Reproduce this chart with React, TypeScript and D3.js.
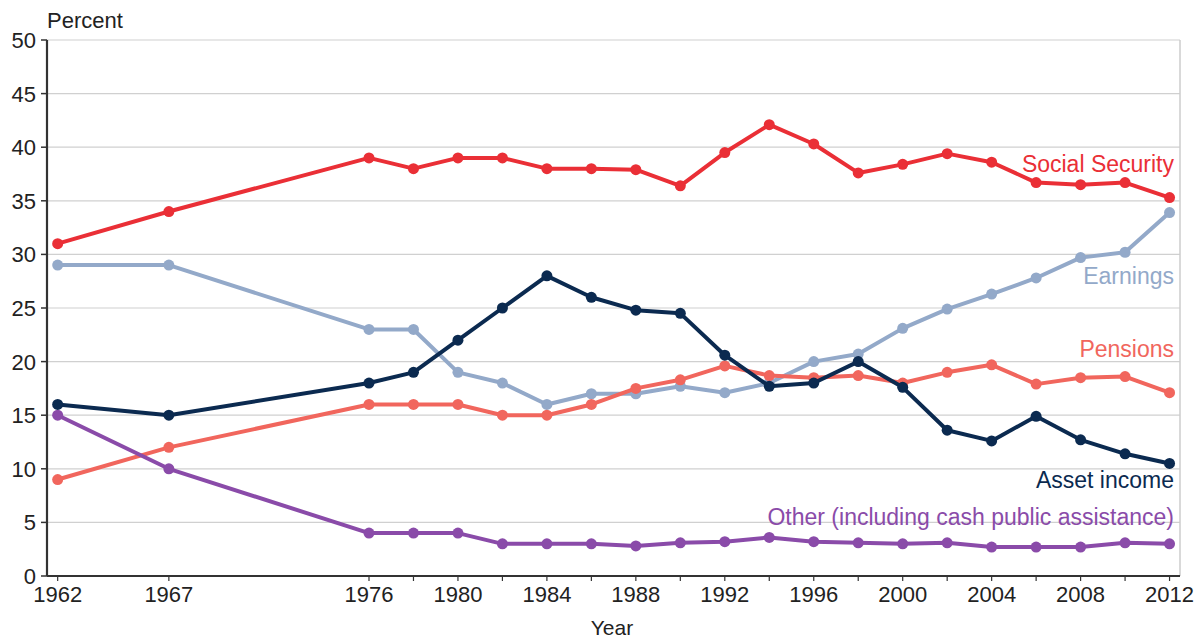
import React from "react";
import * as d3 from "d3";

const years = [1962, 1967, 1976, 1978, 1980, 1982, 1984, 1986, 1988, 1990, 1992, 1994, 1996, 1998, 2000, 2002, 2004, 2006, 2008, 2010, 2012];
const socialSecurity = [31, 34, 39, 38, 39, 39, 38, 38, 37.9, 36.4, 39.5, 42.1, 40.3, 37.6, 38.4, 39.4, 38.6, 36.7, 36.5, 36.7, 35.3];
const earnings = [29, 29, 23, 23, 19, 18, 16, 17, 17, 17.7, 17.1, 18, 20, 20.7, 23.1, 24.9, 26.3, 27.8, 29.7, 30.2, 33.9];
const pensions = [9, 12, 16, 16, 16, 15, 15, 16, 17.5, 18.3, 19.6, 18.7, 18.5, 18.7, 18.0, 19.0, 19.7, 17.9, 18.5, 18.6, 17.1];
const assetIncome = [16, 15, 18, 19, 22, 25, 28, 26, 24.8, 24.5, 20.6, 17.7, 18.0, 20.0, 17.6, 13.6, 12.6, 14.9, 12.7, 11.4, 10.5];
const other = [15, 10, 4, 4, 4, 3, 3, 3, 2.8, 3.1, 3.2, 3.6, 3.2, 3.1, 3.0, 3.1, 2.7, 2.7, 2.7, 3.1, 3.0];

const yTicks = [0, 5, 10, 15, 20, 25, 30, 35, 40, 45, 50];
const xTickLabels = [1962, 1967, 1976, 1980, 1984, 1988, 1992, 1996, 2000, 2004, 2008, 2012];
const xTickMarks = [1962, 1967, 1976, 1978, 1980, 1982, 1984, 1986, 1988, 1990, 1992, 1994, 1996, 1998, 2000, 2002, 2004, 2006, 2008, 2010, 2012];

const seriesList = [
  { name: "Earnings", values: earnings, color: "#93a9c9", labelY: 27.2 },
  { name: "Pensions", values: pensions, color: "#f1665d", labelY: 20.4 },
  { name: "Other (including cash public assistance)", values: other, color: "#8a4ba9", labelY: 4.75 },
  { name: "Asset income", values: assetIncome, color: "#0b2a50", labelY: 8.2 },
  { name: "Social Security", values: socialSecurity, color: "#ea2f36", labelY: 37.7 },
];

const W = 1198;
const H = 638;
const left = 47;
const right = 1180;
const top = 40;
const bottom = 576;

export default function App() {
  const x = d3.scaleLinear().domain([1961.52, 2012.47]).range([left, right]);
  const y = d3.scaleLinear().domain([0, 50]).range([bottom, top]);
  const line = d3
    .line<[number, number]>()
    .x((d) => x(d[0]))
    .y((d) => y(d[1]));
  const font = "Liberation Sans, Arial, Helvetica, sans-serif";

  return (
    <svg width={W} height={H} style={{ position: "absolute", left: 0, top: 0, background: "#fff" }} fontFamily={font}>
      {yTicks.map((t) => (
        <g key={t}>
          {t > 0 && <line x1={left} x2={right} y1={y(t)} y2={y(t)} stroke="#d0d0d0" strokeWidth={1.2} />}
          <line x1={left - 6} x2={left} y1={y(t)} y2={y(t)} stroke="#333" strokeWidth={1.5} />
          <text x={36} y={y(t) + 8} textAnchor="end" fontSize={22} fill="#222">
            {t}
          </text>
        </g>
      ))}
      <line x1={right} x2={right} y1={top} y2={bottom} stroke="#cccccc" strokeWidth={1.5} />
      <text x={47} y={28} fontSize={22} fill="#222">
        Percent
      </text>
      {xTickMarks.map((t) => (
        <line key={t} x1={x(t)} x2={x(t)} y1={bottom} y2={bottom + 5} stroke="#333" strokeWidth={1.2} />
      ))}
      {xTickLabels.map((t) => (
        <text key={t} x={x(t)} y={bottom + 26} textAnchor="middle" fontSize={22} fill="#222">
          {t}
        </text>
      ))}
      <text x={612} y={635} textAnchor="middle" fontSize={21} fill="#222">
        Year
      </text>
      <line x1={left} x2={left} y1={top} y2={bottom} stroke="#333" strokeWidth={2.2} />
      <line x1={left} x2={right} y1={bottom} y2={bottom} stroke="#333" strokeWidth={2.2} />
      {seriesList.map((s) => {
        const pts: [number, number][] = years.map((yr, i) => [yr, s.values[i]]);
        return (
          <g key={s.name}>
            <path d={line(pts) || ""} fill="none" stroke={s.color} strokeWidth={4} strokeLinejoin="round" />
            {pts.map((p, i) => (
              <circle key={i} cx={x(p[0])} cy={y(p[1])} r={5.5} fill={s.color} />
            ))}
            <text x={1174} y={y(s.labelY)} textAnchor="end" fontSize={23} fill={s.color}>
              {s.name}
            </text>
          </g>
        );
      })}
    </svg>
  );
}
